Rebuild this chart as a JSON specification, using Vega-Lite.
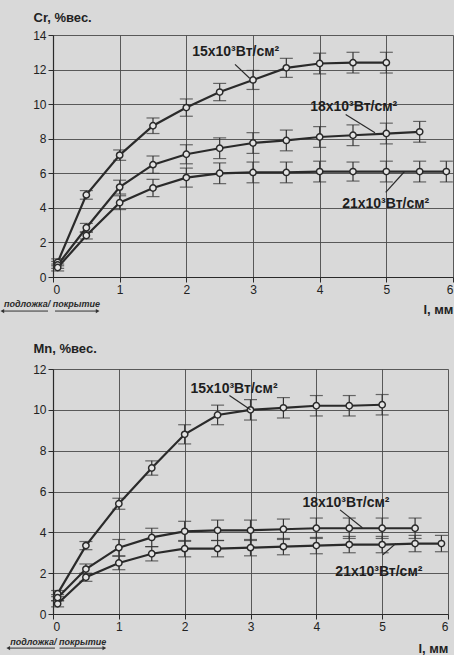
{
  "$schema": "https://vega.github.io/schema/vega-lite/v6.json",
  "background": "#d9d9d9",
  "padding": {"left": 0, "top": 11, "right": 0, "bottom": 0},
  "spacing": 26,
  "config": {
    "view": {"stroke": null},
    "font": "Liberation Sans",
    "axis": {
      "domainColor": "#2a2a2a", "domainWidth": 1.2,
      "gridColor": "#4a4a4a", "gridWidth": 1, "gridOpacity": 0.9,
      "tickColor": "#2a2a2a", "tickSize": 5,
      "labelFont": "Liberation Sans", "labelFontSize": 12, "labelColor": "#222",
      "labelPadding": 2,
      "titleFont": "Liberation Sans", "titleFontSize": 13, "titleFontWeight": "bold", "titleColor": "#222"
    }
  },
  "datasets": {
    "cr": [
      {"s": "15", "x": 0.07, "y": 0.85, "e": 0.2}, {"s": "15", "x": 0.5, "y": 4.75, "e": 0.25}, {"s": "15", "x": 1, "y": 7.05, "e": 0.3},
      {"s": "15", "x": 1.5, "y": 8.75, "e": 0.45}, {"s": "15", "x": 2, "y": 9.8, "e": 0.5}, {"s": "15", "x": 2.5, "y": 10.7, "e": 0.5},
      {"s": "15", "x": 3, "y": 11.4, "e": 0.55}, {"s": "15", "x": 3.5, "y": 12.1, "e": 0.55}, {"s": "15", "x": 4, "y": 12.35, "e": 0.6},
      {"s": "15", "x": 4.5, "y": 12.4, "e": 0.6}, {"s": "15", "x": 5, "y": 12.4, "e": 0.6},
      {"s": "18", "x": 0.07, "y": 0.7, "e": 0.2}, {"s": "18", "x": 0.5, "y": 2.85, "e": 0.25}, {"s": "18", "x": 1, "y": 5.2, "e": 0.4},
      {"s": "18", "x": 1.5, "y": 6.5, "e": 0.5}, {"s": "18", "x": 2, "y": 7.1, "e": 0.55}, {"s": "18", "x": 2.5, "y": 7.45, "e": 0.6},
      {"s": "18", "x": 3, "y": 7.75, "e": 0.6}, {"s": "18", "x": 3.5, "y": 7.9, "e": 0.6}, {"s": "18", "x": 4, "y": 8.1, "e": 0.6},
      {"s": "18", "x": 4.5, "y": 8.2, "e": 0.6}, {"s": "18", "x": 5, "y": 8.3, "e": 0.6}, {"s": "18", "x": 5.5, "y": 8.4, "e": 0.6},
      {"s": "21", "x": 0.07, "y": 0.55, "e": 0.2}, {"s": "21", "x": 0.5, "y": 2.4, "e": 0.2}, {"s": "21", "x": 1, "y": 4.3, "e": 0.4},
      {"s": "21", "x": 1.5, "y": 5.15, "e": 0.5}, {"s": "21", "x": 2, "y": 5.75, "e": 0.55}, {"s": "21", "x": 2.5, "y": 6.0, "e": 0.6},
      {"s": "21", "x": 3, "y": 6.05, "e": 0.6}, {"s": "21", "x": 3.5, "y": 6.05, "e": 0.6}, {"s": "21", "x": 4, "y": 6.1, "e": 0.6},
      {"s": "21", "x": 4.5, "y": 6.1, "e": 0.55}, {"s": "21", "x": 5, "y": 6.1, "e": 0.6}, {"s": "21", "x": 5.5, "y": 6.1, "e": 0.6},
      {"s": "21", "x": 5.9, "y": 6.1, "e": 0.6}
    ],
    "mn": [
      {"s": "15", "x": 0.07, "y": 1.0, "e": 0.15}, {"s": "15", "x": 0.5, "y": 3.35, "e": 0.2}, {"s": "15", "x": 1, "y": 5.4, "e": 0.27},
      {"s": "15", "x": 1.5, "y": 7.15, "e": 0.35}, {"s": "15", "x": 2, "y": 8.8, "e": 0.47}, {"s": "15", "x": 2.5, "y": 9.75, "e": 0.48},
      {"s": "15", "x": 3, "y": 10.0, "e": 0.5}, {"s": "15", "x": 3.5, "y": 10.1, "e": 0.5}, {"s": "15", "x": 4, "y": 10.2, "e": 0.5},
      {"s": "15", "x": 4.5, "y": 10.2, "e": 0.5}, {"s": "15", "x": 5, "y": 10.25, "e": 0.5},
      {"s": "18", "x": 0.07, "y": 0.8, "e": 0.15}, {"s": "18", "x": 0.5, "y": 2.2, "e": 0.25}, {"s": "18", "x": 1, "y": 3.25, "e": 0.4},
      {"s": "18", "x": 1.5, "y": 3.75, "e": 0.45}, {"s": "18", "x": 2, "y": 4.05, "e": 0.49}, {"s": "18", "x": 2.5, "y": 4.1, "e": 0.5},
      {"s": "18", "x": 3, "y": 4.1, "e": 0.5}, {"s": "18", "x": 3.5, "y": 4.15, "e": 0.5}, {"s": "18", "x": 4, "y": 4.2, "e": 0.5},
      {"s": "18", "x": 4.5, "y": 4.2, "e": 0.5}, {"s": "18", "x": 5, "y": 4.2, "e": 0.5}, {"s": "18", "x": 5.5, "y": 4.2, "e": 0.5},
      {"s": "21", "x": 0.07, "y": 0.5, "e": 0.15}, {"s": "21", "x": 0.5, "y": 1.8, "e": 0.2}, {"s": "21", "x": 1, "y": 2.5, "e": 0.33},
      {"s": "21", "x": 1.5, "y": 2.95, "e": 0.35}, {"s": "21", "x": 2, "y": 3.2, "e": 0.4}, {"s": "21", "x": 2.5, "y": 3.2, "e": 0.4},
      {"s": "21", "x": 3, "y": 3.25, "e": 0.4}, {"s": "21", "x": 3.5, "y": 3.3, "e": 0.4}, {"s": "21", "x": 4, "y": 3.35, "e": 0.4},
      {"s": "21", "x": 4.5, "y": 3.4, "e": 0.4}, {"s": "21", "x": 5, "y": 3.4, "e": 0.4}, {"s": "21", "x": 5.5, "y": 3.45, "e": 0.4},
      {"s": "21", "x": 5.9, "y": 3.45, "e": 0.4}
    ],
    "crLabels": [
      {"t": "15x10³Вт/см²", "x": 2.74, "y": 13.0},
      {"t": "18x10³Вт/см²", "x": 4.51, "y": 9.83},
      {"t": "21x10³Вт/см²", "x": 4.99, "y": 4.22}
    ],
    "crLeaders": [
      {"x": 2.73, "y": 12.3, "x2": 2.95, "y2": 11.5},
      {"x": 4.39, "y": 9.4, "x2": 4.83, "y2": 8.35},
      {"x": 5.27, "y": 6.09, "x2": 4.99, "y2": 4.9}
    ],
    "mnLabels": [
      {"t": "15x10³Вт/см²", "x": 2.75, "y": 11.0},
      {"t": "18x10³Вт/см²", "x": 4.45, "y": 5.44},
      {"t": "21x10³Вт/см²", "x": 4.95, "y": 2.05}
    ],
    "mnLeaders": [
      {"x": 2.68, "y": 10.7, "x2": 3.0, "y2": 10.0},
      {"x": 4.36, "y": 5.1, "x2": 4.7, "y2": 4.22},
      {"x": 5.21, "y": 3.46, "x2": 5.01, "y2": 2.9}
    ],
    "crNote": [{"t": "подложка/ покрытие", "x": -0.015, "y": -1.56}],
    "crArrows": [
      {"d": "left", "x": -0.76, "x2": -0.075, "y": -1.97},
      {"d": "right", "x": 0.03, "x2": 0.67, "y": -1.97}
    ],
    "mnNote": [{"t": "подложка/ покрытие", "x": 0.08, "y": -1.37}],
    "mnArrows": [
      {"d": "left", "x": -0.68, "x2": 0.03, "y": -1.67},
      {"d": "right", "x": 0.1, "x2": 0.78, "y": -1.67}
    ]
  },
  "vconcat": [
    {
      "width": 400,
      "height": 242,
      "encoding": {
        "x": {"field": "x", "type": "quantitative",
          "scale": {"domain": [0, 6], "nice": false},
          "axis": {"values": [0, 1, 2, 3, 4, 5, 6], "title": "l, мм", "titleAlign": "right", "titleX": 400, "titleY": 32, "titleBaseline": "middle", "titleFontSize": 13}},
        "y": {"field": "y", "type": "quantitative",
          "scale": {"domain": [0, 14], "nice": false},
          "axis": {"values": [0, 2, 4, 6, 8, 10, 12, 14], "title": "Cr, %вес.", "titleAngle": 0, "titleAlign": "left", "titleX": -20, "titleY": -18, "titleBaseline": "middle"}}
      },
      "layer": [
        {"data": {"name": "cr"}, "mark": {"type": "errorbar", "ticks": {"size": 13, "color": "#333", "strokeWidth": 1.2}, "color": "#333", "thickness": 1.2},
          "encoding": {"yError": {"field": "e"}}},
        {"data": {"name": "cr"}, "mark": {"type": "line", "color": "#2a2a2a", "strokeWidth": 2.2},
          "encoding": {"detail": {"field": "s"}}},
        {"data": {"name": "cr"}, "mark": {"type": "point", "filled": true, "fill": "#e4e4e4", "stroke": "#2a2a2a", "strokeWidth": 1.5, "size": 40, "opacity": 1},
          "encoding": {"detail": {"field": "s"}}},
        {"data": {"name": "crLeaders"}, "mark": {"type": "rule", "color": "#2a2a2a", "strokeWidth": 1.2},
          "encoding": {"x2": {"field": "x2"}, "y2": {"field": "y2"}}},
        {"data": {"name": "crLabels"}, "mark": {"type": "text", "fontSize": 14, "fontWeight": "bold", "color": "#1e1e1e", "baseline": "middle"},
          "encoding": {"text": {"field": "t"}}},
        {"data": {"name": "crNote"}, "mark": {"type": "text", "fontSize": 9, "fontWeight": "bold", "fontStyle": "italic", "color": "#2a2a2a", "baseline": "middle"},
          "encoding": {"text": {"field": "t"}}},
        {"data": {"name": "crArrows"}, "mark": {"type": "rule", "color": "#333", "strokeWidth": 1},
          "encoding": {"x2": {"field": "x2"}}},
        {"data": {"name": "crArrows"}, "transform": [{"filter": "datum.d == 'left'"}], "mark": {"type": "point", "shape": "triangle-left", "filled": true, "color": "#333", "size": 18, "opacity": 1},
          "encoding": {}},
        {"data": {"name": "crArrows"}, "transform": [{"filter": "datum.d == 'right'"}], "mark": {"type": "point", "shape": "triangle-right", "filled": true, "color": "#333", "size": 18, "opacity": 1},
          "encoding": {"x": {"field": "x2", "type": "quantitative"}}}
      ]
    },
    {
      "width": 395,
      "height": 245,
      "encoding": {
        "x": {"field": "x", "type": "quantitative",
          "scale": {"domain": [0, 6], "nice": false},
          "axis": {"values": [0, 1, 2, 3, 4, 5, 6], "title": "l, мм", "titleAlign": "right", "titleX": 395, "titleY": 34, "titleBaseline": "middle", "titleFontSize": 13}},
        "y": {"field": "y", "type": "quantitative",
          "scale": {"domain": [0, 12], "nice": false},
          "axis": {"values": [0, 2, 4, 6, 8, 10, 12], "title": "Mn, %вес.", "titleAngle": 0, "titleAlign": "left", "titleX": -20, "titleY": -21, "titleBaseline": "middle"}}
      },
      "layer": [
        {"data": {"name": "mn"}, "mark": {"type": "errorbar", "ticks": {"size": 13, "color": "#333", "strokeWidth": 1.2}, "color": "#333", "thickness": 1.2},
          "encoding": {"yError": {"field": "e"}}},
        {"data": {"name": "mn"}, "mark": {"type": "line", "color": "#2a2a2a", "strokeWidth": 2.2},
          "encoding": {"detail": {"field": "s"}}},
        {"data": {"name": "mn"}, "mark": {"type": "point", "filled": true, "fill": "#e4e4e4", "stroke": "#2a2a2a", "strokeWidth": 1.5, "size": 40, "opacity": 1},
          "encoding": {"detail": {"field": "s"}}},
        {"data": {"name": "mnLeaders"}, "mark": {"type": "rule", "color": "#2a2a2a", "strokeWidth": 1.2},
          "encoding": {"x2": {"field": "x2"}, "y2": {"field": "y2"}}},
        {"data": {"name": "mnLabels"}, "mark": {"type": "text", "fontSize": 14, "fontWeight": "bold", "color": "#1e1e1e", "baseline": "middle"},
          "encoding": {"text": {"field": "t"}}},
        {"data": {"name": "mnNote"}, "mark": {"type": "text", "fontSize": 9, "fontWeight": "bold", "fontStyle": "italic", "color": "#2a2a2a", "baseline": "middle"},
          "encoding": {"text": {"field": "t"}}},
        {"data": {"name": "mnArrows"}, "mark": {"type": "rule", "color": "#333", "strokeWidth": 1},
          "encoding": {"x2": {"field": "x2"}}},
        {"data": {"name": "mnArrows"}, "transform": [{"filter": "datum.d == 'left'"}], "mark": {"type": "point", "shape": "triangle-left", "filled": true, "color": "#333", "size": 18, "opacity": 1},
          "encoding": {}},
        {"data": {"name": "mnArrows"}, "transform": [{"filter": "datum.d == 'right'"}], "mark": {"type": "point", "shape": "triangle-right", "filled": true, "color": "#333", "size": 18, "opacity": 1},
          "encoding": {"x": {"field": "x2", "type": "quantitative"}}}
      ]
    }
  ]
}
